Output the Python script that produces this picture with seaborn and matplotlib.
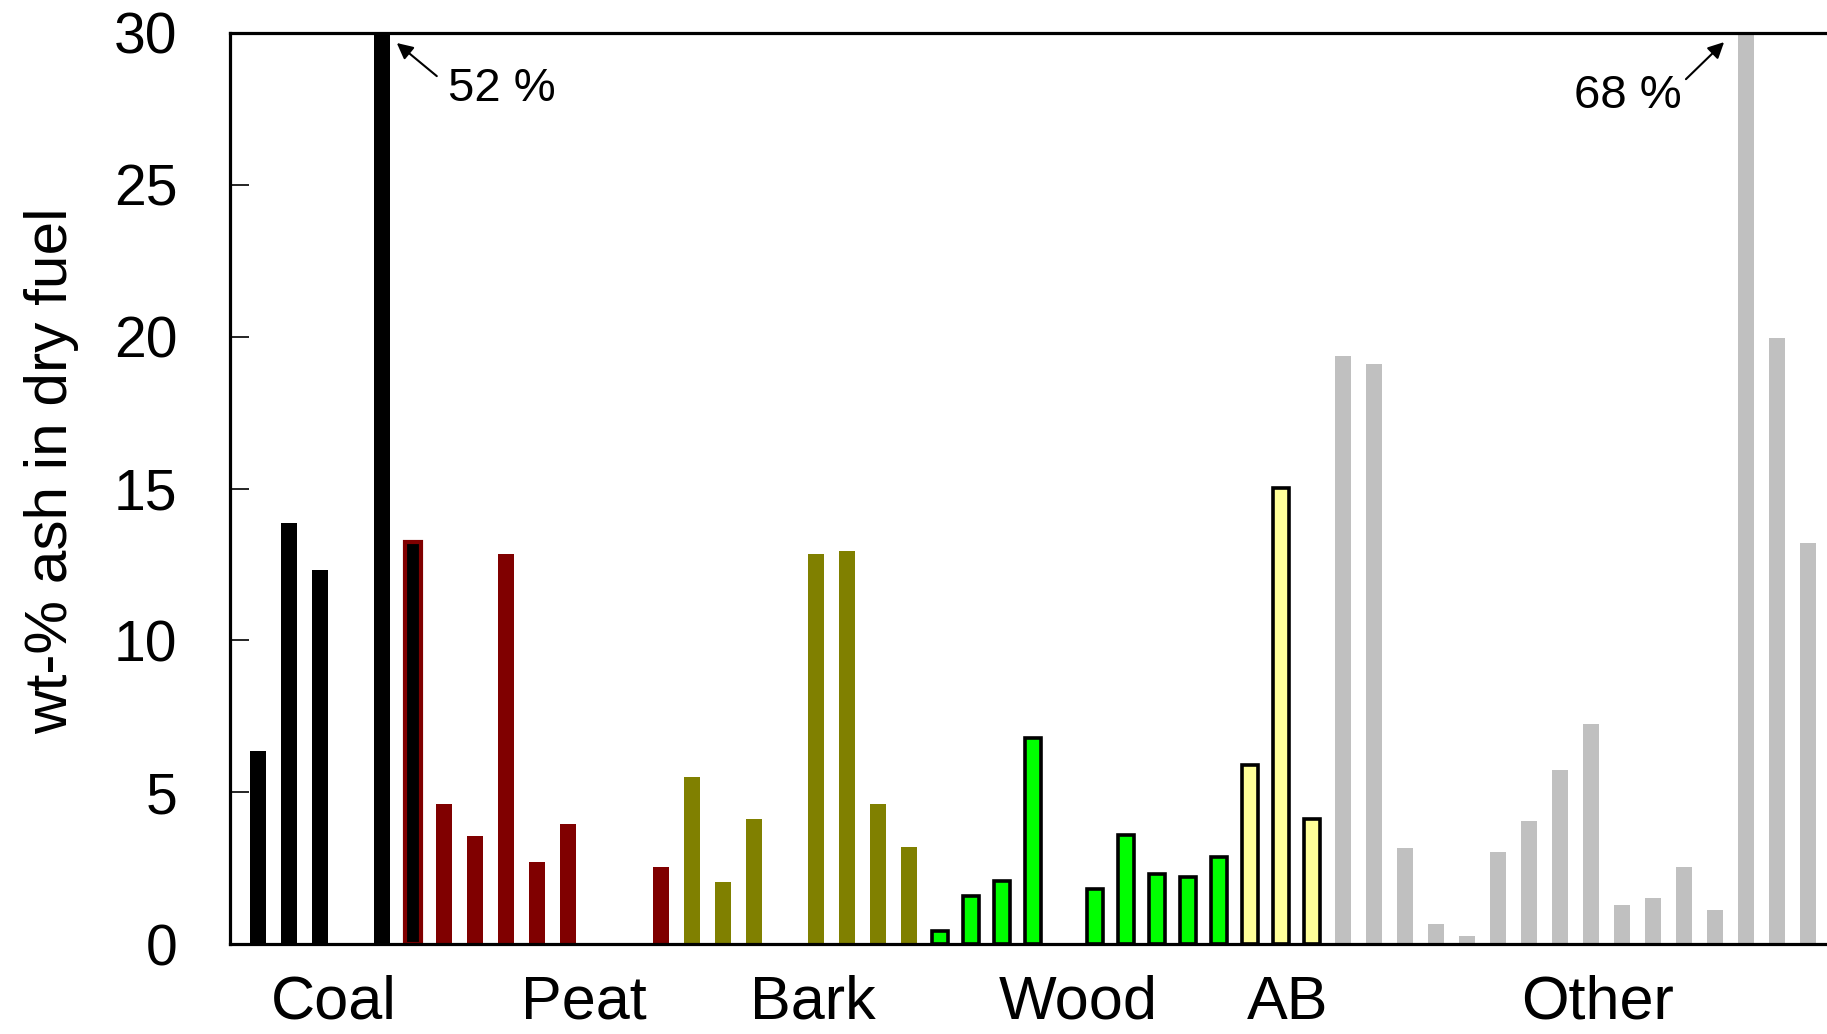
import numpy as np
import pandas as pd
import matplotlib
matplotlib.use("Agg")
import matplotlib.pyplot as plt
import seaborn as sns

nan = np.nan

# Ash content (wt-% of dry fuel) per fuel sample; nan marks an empty slot
coal = [6.35, 13.85, 12.3, nan, 52.0]
coal_peat = [13.25]
peat = [4.6, 3.55, 12.85, 2.7, 3.95, nan, nan, 2.55]
bark = [5.5, 2.05, 4.1, nan, 12.85, 12.95, 4.6, 3.2]
wood = [0.42, 1.57, 2.07, 6.78, nan, 1.82, 3.6, 2.32, 2.2, 2.85]
ab = [5.88, 15.02, 4.1]
other = [19.35, 19.1, 3.17, 0.65, 0.25, 3.03, 4.05, 5.72, 7.25,
         1.27, 1.53, 2.55, 1.13, 68.0, 19.95, 13.2]

group_names = ["Coal", "Coal/Peat", "Peat", "Bark", "Wood", "AB", "Other"]
group_values = [coal, coal_peat, peat, bark, wood, ab, other]

# Category captions under the x axis and where they sit
caption_labels = ["Coal", "Peat", "Bark", "Wood", "AB", "Other"]
caption_pos = [2.44, 10.5, 17.9, 26.45, 33.2, 43.2]

y_ticks = [0, 5, 10, 15, 20, 25, 30]

# Bar styling per group: face, edge, edge width
styles = {
    "Coal": ("#000000", "#000000", 0.0),
    "Coal/Peat": ("#000000", "#800000", 3.0),
    "Peat": ("#800000", "#800000", 0.0),
    "Bark": ("#808000", "#808000", 0.0),
    "Wood": ("#00ff00", "#000000", 2.6),
    "AB": ("#ffff99", "#000000", 2.6),
    "Other": ("#c0c0c0", "#c0c0c0", 0.0),
}

rows = []
slot = 0
for name, vals in zip(group_names, group_values):
    for v in vals:
        rows.append({"slot": slot, "group": name, "ash": v})
        slot += 1
df = pd.DataFrame(rows).dropna()

sns.set_style("white")
plt.rcParams["font.family"] = ["Liberation Sans", "DejaVu Sans"]
plt.rcParams.update({
    "text.color": "black",
    "axes.labelcolor": "black",
    "xtick.color": "black",
    "ytick.color": "black",
})

W, H = 1827, 1034
fig = plt.figure(figsize=(W / 100, H / 100), dpi=100)
ax = fig.add_axes([230 / W, (H - 944) / H, 1606 / W, 911 / H])

for name in group_names:
    face, edge, lw = styles[name]
    sub = df[df["group"] == name]
    sns.barplot(data=sub, x="slot", y="ash", native_scale=True,
                color=face, edgecolor=edge, linewidth=lw, width=0.51,
                saturation=1, errorbar=None, ax=ax)

ax.set_xlim(-0.9, 50.9)
ax.set_ylim(0, 30)

ax.set_yticks(y_ticks)
ax.set_yticklabels([str(t) for t in y_ticks], fontsize=41)
ax.tick_params(axis="y", direction="in", length=14, width=1.2,
               color="black", pad=38, left=True)

ax.set_xticks(caption_pos)
ax.set_xticklabels(caption_labels, fontsize=44)
ax.tick_params(axis="x", length=0, pad=22)

ax.set_xlabel("")
ax.set_ylabel("wt-% ash in dry fuel", fontsize=43.5, va="center")
ax.yaxis.set_label_coords(-0.1108, 0.519)

for side in ["left", "top", "bottom"]:
    ax.spines[side].set_visible(True)
    ax.spines[side].set_color("black")
    ax.spines[side].set_linewidth(2.3)
ax.spines["right"].set_visible(False)

# Off-scale bars: state their true values
arrow = dict(arrowstyle="-|>", color="black", lw=1.5,
             mutation_scale=24, shrinkA=0, shrinkB=0)
ax.annotate("", xy=(4.48, 29.67), xytext=(5.77, 28.58), arrowprops=arrow)
ax.text(7.87, 28.16, f"{coal[4]:.0f} %", ha="center", va="center", fontsize=34)
ax.annotate("", xy=(47.29, 29.70), xytext=(46.06, 28.48), arrowprops=arrow)
ax.text(44.19, 27.91, f"{other[13]:.0f} %", ha="center", va="center", fontsize=34)

fig.savefig("out.png", dpi=100)
